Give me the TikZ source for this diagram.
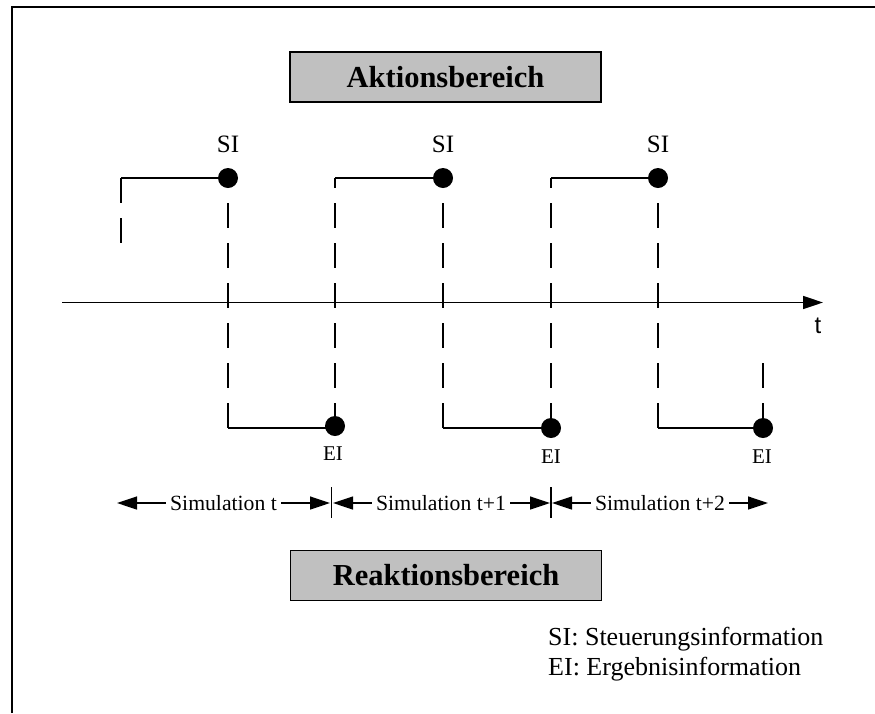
\documentclass[tikz,border=0pt]{standalone}
\usepackage{fontspec}
\setmainfont{Liberation Serif}
\newfontfamily\axisfont{Liberation Sans}
\usetikzlibrary{arrows.meta}
\definecolor{boxgray}{RGB}{192,192,192}
\begin{document}
\begin{tikzpicture}[x=1pt,y=-1pt,
  frameline/.style={line width=2pt},
  sig/.style={line width=1.3pt},
  cut/.style={line width=1.3pt, dash pattern=on 25pt off 15pt, dash phase=#1},
  cut/.default=15pt,
  dot/.style={circle, fill=black, inner sep=0pt, minimum size=20pt},
  area/.style={draw=black, line width=1.5pt, fill=boxgray, inner sep=0pt,
    minimum width=311pt, minimum height=50pt,
    font=\fontsize{30.5}{36}\selectfont\bfseries},
  silabel/.style={anchor=base, inner sep=0pt, font=\fontsize{25}{30}\selectfont},
  eilabel/.style={anchor=base, inner sep=0pt, font=\fontsize{21}{25}\selectfont},
  simlab/.style={anchor=base, inner xsep=4pt, inner ysep=0pt, font=\fontsize{21.7}{26}\selectfont},
  simarr/.style={line width=1.3pt, -{Triangle[length=20pt,width=13pt]}},
  axis/.style={line width=1.6pt, -{Triangle[length=20pt,width=13pt]}},
  legend/.style={anchor=base west, inner sep=0pt, font=\fontsize{26}{31}\selectfont}
]
\useasboundingbox (0,0) rectangle (875,713);

% outer frame (top and left edges)
\coordinate (fbl) at (11.8,713);
\coordinate (ftl) at (11.8,6.7);
\coordinate (ftr) at (875,6.7);
\draw[frameline] (fbl) -- (ftl) -- (ftr);

% regions
\node[area] (akt) at (445.5,77) {Aktionsbereich};
\node[area] (rea) at (446,575.5) {Reaktionsbereich};

% time axis
\coordinate (ax0) at (62,302.5);
\coordinate (ax1) at (823,302.5);
\draw[axis] (ax0) -- (ax1);
\node[anchor=base, inner sep=0pt, font=\axisfont\fontsize{24}{28}\selectfont] (tlab) at (818,333) {t};

% corner points of the signal
\coordinate (u0) at (121,178);
\coordinate (u0e) at (121,243);
\coordinate (u2) at (335,178);
\coordinate (u4) at (551,178);
\coordinate (l1) at (228,428);
\coordinate (l3) at (443,428);
\coordinate (l5) at (658,428);
\coordinate (a1) at (228,178);
\coordinate (a3) at (443,178);
\coordinate (a5) at (658,178);
\coordinate (f6) at (763,363);

% control information (SI) and result information (EI) points
\node[dot] (si1) at (228,178) {};
\node[dot] (si2) at (443,178) {};
\node[dot] (si3) at (658,178) {};
\node[dot] (ei1) at (335,426) {};
\node[dot] (ei2) at (551,428) {};
\node[dot] (ei3) at (763,428) {};

\node[silabel] (lsi1) at (228,152) {SI};
\node[silabel] (lsi2) at (443,152) {SI};
\node[silabel] (lsi3) at (658,152) {SI};
\node[eilabel] (lei1) at (333,460) {EI};
\node[eilabel] (lei2) at (551,463) {EI};
\node[eilabel] (lei3) at (762,463) {EI};

% solid levels
\draw[sig] (u0) -- (si1.center);
\draw[sig] (u2) -- (si2.center);
\draw[sig] (u4) -- (si3.center);
\draw[sig] (l1) -- (l1 -| ei1);
\draw[sig] (l3) -- (ei2.center);
\draw[sig] (l5) -- (ei3.center);

% dashed transitions
\draw[cut=0pt] (u0) -- (u0e);
\draw[cut] (a1) -- (l1);
\draw[cut] (u2) -- (ei1.center);
\draw[cut] (a3) -- (l3);
\draw[cut] (u4) -- (ei2.center);
\draw[cut] (a5) -- (l5);
\draw[cut=0pt] (f6) -- (ei3.center);

% simulation intervals
\node[simlab] (sim1) at (223.5,510) {Simulation t};
\node[simlab] (sim2) at (441,510) {Simulation t+1};
\node[simlab] (sim3) at (660,510) {Simulation t+2};

\coordinate (s1l) at (117,503);
\coordinate (s1r) at (330,503);
\coordinate (s2l) at (333,503);
\coordinate (s2r) at (550,503);
\coordinate (s3l) at (552,503);
\coordinate (s3r) at (768,503);

\draw[simarr] (sim1.west |- s1l) -- (s1l);
\draw[simarr] (sim1.east |- s1r) -- (s1r);
\draw[simarr] (sim2.west |- s2l) -- (s2l);
\draw[simarr] (sim2.east |- s2r) -- (s2r);
\draw[simarr] (sim3.west |- s3l) -- (s3l);
\draw[simarr] (sim3.east |- s3r) -- (s3r);

\coordinate (b1t) at (331.5,487);
\coordinate (b1b) at (331.5,518);
\coordinate (b2t) at (551,487);
\coordinate (b2b) at (551,518);
\draw[sig] (b1t) -- (b1b);
\draw[sig] (b2t) -- (b2b);

% legend
\node[legend] (leg1) at (548,645) {SI: Steuerungsinformation};
\node[legend] (leg2) at (548,675) {EI: Ergebnisinformation};
\end{tikzpicture}
\end{document}
